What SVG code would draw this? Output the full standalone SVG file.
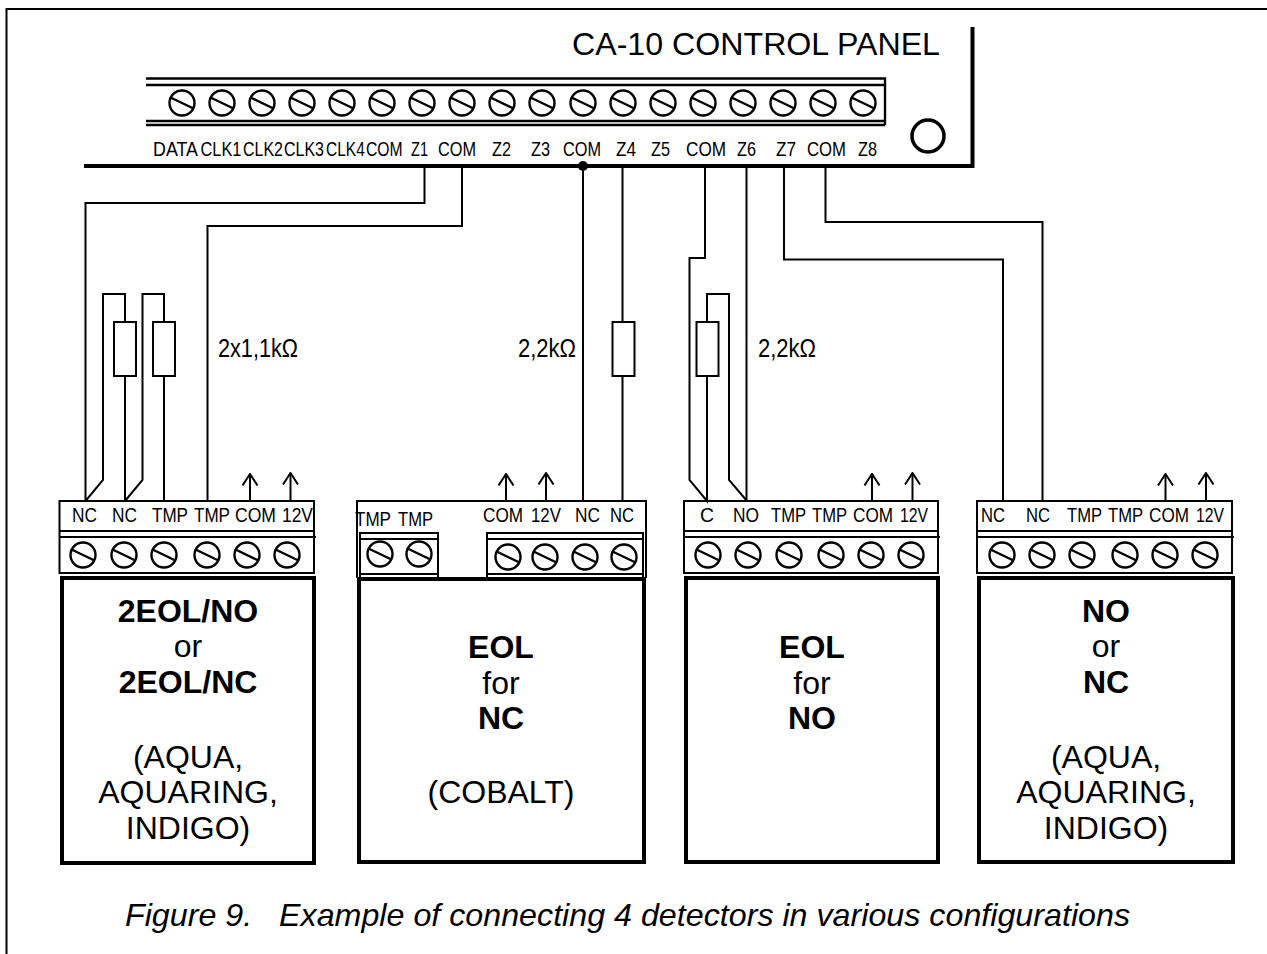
<svg xmlns="http://www.w3.org/2000/svg" width="1267" height="954" viewBox="0 0 1267 954">
<style>
text{font-family:"Liberation Sans",Arial,sans-serif;fill:#000}
.l{font-size:21px}
.r{font-size:26px}
.b{font-size:32px;text-anchor:middle}
.bb{font-size:32px;text-anchor:middle;font-weight:bold}
.w{fill:none;stroke:#000;stroke-width:2}
.t{fill:none;stroke:#000;stroke-width:2.400}
.k{fill:none;stroke:#000;stroke-width:4}
</style>
<defs>
<g id="s"><circle r="12.500" fill="#fff" stroke="#000" stroke-width="2.400"/><path d="M-11.500-5.500L11.500 5.500" stroke="#000" stroke-width="2.400"/></g>
<marker id="a" markerUnits="userSpaceOnUse" markerWidth="18" markerHeight="16" refX="9" refY="1.500" viewBox="0 0 18 16"><path d="M1.500 13L9 1.500L16.500 13" fill="none" stroke="#000" stroke-width="2"/></marker>
</defs>
<rect width="1267" height="954" fill="#fff"/>
<path d="M6.500 954V9H1267" class="w"/>
<g id="panel">
<path d="M84 166H972.500V27" class="k"/>
<path d="M146 78.500H885V125M146 85H885M146 121H885M146 125H885" class="t"/>
<circle cx="928" cy="136" r="16" fill="#fff" stroke="#000" stroke-width="3.500"/>
<use href="#s" x="182" y="103"/><use href="#s" x="222" y="103"/><use href="#s" x="262" y="103"/><use href="#s" x="302" y="103"/><use href="#s" x="342" y="103"/><use href="#s" x="382" y="103"/><use href="#s" x="422" y="103"/><use href="#s" x="462" y="103"/><use href="#s" x="502" y="103"/><use href="#s" x="542" y="103"/><use href="#s" x="583" y="103"/><use href="#s" x="623" y="103"/><use href="#s" x="663" y="103"/><use href="#s" x="703" y="103"/><use href="#s" x="743" y="103"/><use href="#s" x="783" y="103"/><use href="#s" x="823" y="103"/><use href="#s" x="863" y="103"/>
<text x="572" y="55" font-size="32" textLength="368" lengthAdjust="spacingAndGlyphs">CA-10 CONTROL PANEL</text>
<g class="l">
<text transform="translate(153 156) scale(.85 1)">DATA</text>
<text transform="translate(200.500 156) scale(.78 1)">CLK1</text>
<text transform="translate(243 156) scale(.76 1)">CLK2</text>
<text transform="translate(284 156) scale(.76 1)">CLK3</text>
<text transform="translate(326 156) scale(.74 1)">CLK4</text>
<text transform="translate(366 156) scale(.75 1)">COM</text>
<text x="411" y="156" textLength="17" lengthAdjust="spacingAndGlyphs">Z1</text>
<text x="438" y="156" textLength="38" lengthAdjust="spacingAndGlyphs">COM</text>
<text x="492" y="156" textLength="19" lengthAdjust="spacingAndGlyphs">Z2</text>
<text x="531" y="156" textLength="19" lengthAdjust="spacingAndGlyphs">Z3</text>
<text x="563" y="156" textLength="38" lengthAdjust="spacingAndGlyphs">COM</text>
<text x="616" y="156" textLength="20" lengthAdjust="spacingAndGlyphs">Z4</text>
<text x="651" y="156" textLength="19" lengthAdjust="spacingAndGlyphs">Z5</text>
<text x="686" y="156" textLength="40" lengthAdjust="spacingAndGlyphs">COM</text>
<text x="737" y="156" textLength="19" lengthAdjust="spacingAndGlyphs">Z6</text>
<text x="776" y="156" textLength="20" lengthAdjust="spacingAndGlyphs">Z7</text>
<text x="807" y="156" textLength="39" lengthAdjust="spacingAndGlyphs">COM</text>
<text x="858" y="156" textLength="19" lengthAdjust="spacingAndGlyphs">Z8</text>
</g>
</g>
<g id="connectors">
<path d="M424.500 166V203H85.500V501" class="w"/>
<path d="M462 166V226H207.500V501" class="w"/>
<path d="M85.500 501L103 480V294H125V322M125 376V501" class="w"/>
<path d="M125 501L142.500 480V294H164V322M164 376V501" class="w"/>
<path d="M583 166V501" class="w"/>
<circle cx="583" cy="166" r="5" fill="#000"/>
<path d="M622.500 166V322M622.500 376V501" class="w"/>
<path d="M705 166V258H689.500V480L707 501V376M707 322V294H729V480L747 501" class="w"/>
<path d="M746.500 166V501" class="w"/>
<path d="M784 166V259.500H1003V501" class="w"/>
<path d="M825.500 166V222H1042.500V501" class="w"/>
<path d="M250 501V474" class="w" marker-end="url(#a)"/>
<path d="M290.500 501V473" class="w" marker-end="url(#a)"/>
<path d="M506 501V474" class="w" marker-end="url(#a)"/>
<path d="M546 501V473" class="w" marker-end="url(#a)"/>
<path d="M872 501V474" class="w" marker-end="url(#a)"/>
<path d="M912.500 501V473" class="w" marker-end="url(#a)"/>
<path d="M1165.500 501V474" class="w" marker-end="url(#a)"/>
<path d="M1206 501V473" class="w" marker-end="url(#a)"/>
</g>
<g id="resistors">
<rect x="114" y="322" width="22" height="54" fill="#fff" stroke="#000" stroke-width="2"/>
<rect x="153" y="322" width="22" height="54" fill="#fff" stroke="#000" stroke-width="2"/>
<rect x="612.500" y="322" width="22" height="54" fill="#fff" stroke="#000" stroke-width="2"/>
<rect x="696.500" y="322" width="22" height="54" fill="#fff" stroke="#000" stroke-width="2"/>
<text class="r" x="218" y="357" textLength="80" lengthAdjust="spacingAndGlyphs">2x1,1kΩ</text>
<text class="r" x="518" y="357" textLength="58" lengthAdjust="spacingAndGlyphs">2,2kΩ</text>
<text class="r" x="758" y="357" textLength="58" lengthAdjust="spacingAndGlyphs">2,2kΩ</text>
</g>
<g id="det1">
<path d="M59.500 501H314V573H59.500ZM59.500 531H314M59.500 537H316" class="w"/>
<rect x="62" y="578" width="252" height="285" class="k"/>
<use href="#s" x="83" y="555"/><use href="#s" x="124" y="555"/><use href="#s" x="164" y="555"/><use href="#s" x="207" y="555"/><use href="#s" x="247" y="555"/><use href="#s" x="287" y="555"/>
<g class="l">
<text x="72" y="522" textLength="25" lengthAdjust="spacingAndGlyphs">NC</text>
<text x="112" y="522" textLength="25" lengthAdjust="spacingAndGlyphs">NC</text>
<text x="152" y="522" textLength="36" lengthAdjust="spacingAndGlyphs">TMP</text>
<text x="194" y="522" textLength="36" lengthAdjust="spacingAndGlyphs">TMP</text>
<text x="235" y="522" textLength="41" lengthAdjust="spacingAndGlyphs">COM</text>
<text x="282" y="522" textLength="31" lengthAdjust="spacingAndGlyphs">12V</text>
</g>
<text class="bb" x="188" y="622">2EOL/NO</text><text class="b" x="188" y="657">or</text><text class="bb" x="188" y="693">2EOL/NC</text>
<text class="b" x="188" y="768">(AQUA,</text><text class="b" x="188" y="803">AQUARING,</text><text class="b" x="188" y="839">INDIGO)</text>
</g>
<g id="det2">
<path d="M357 578V501H646V578" class="w"/>
<path d="M360 578V533H438V578M360 539H438M360 574H438" class="w"/>
<path d="M487 578V533H643V578M487 539H643M487 574H643" class="w"/>
<rect x="359" y="579" width="285" height="283" class="k"/>
<use href="#s" x="380" y="554"/><use href="#s" x="419" y="554"/><use href="#s" x="508" y="557"/><use href="#s" x="545" y="557"/><use href="#s" x="585" y="557"/><use href="#s" x="624" y="557"/>
<g class="l">
<text x="355" y="526" textLength="36" lengthAdjust="spacingAndGlyphs">TMP</text>
<text x="398" y="526" textLength="35" lengthAdjust="spacingAndGlyphs">TMP</text>
<text x="483" y="522" textLength="40" lengthAdjust="spacingAndGlyphs">COM</text>
<text x="531" y="522" textLength="30" lengthAdjust="spacingAndGlyphs">12V</text>
<text x="575" y="522" textLength="25" lengthAdjust="spacingAndGlyphs">NC</text>
<text x="610" y="522" textLength="24" lengthAdjust="spacingAndGlyphs">NC</text>
</g>
<text class="bb" x="501" y="658">EOL</text><text class="b" x="501" y="694">for</text><text class="bb" x="501" y="729">NC</text>
<text class="b" x="501" y="803">(COBALT)</text>
</g>
<g id="det3">
<path d="M684 501H938V573H684ZM684 531H938M684 537H940" class="w"/>
<rect x="686" y="578" width="252" height="284" class="k"/>
<use href="#s" x="708" y="555"/><use href="#s" x="748" y="555"/><use href="#s" x="789" y="555"/><use href="#s" x="831" y="555"/><use href="#s" x="871" y="555"/><use href="#s" x="911" y="555"/>
<g class="l">
<text x="700" y="522" textLength="14" lengthAdjust="spacingAndGlyphs">C</text>
<text x="733" y="522" textLength="26" lengthAdjust="spacingAndGlyphs">NO</text>
<text x="771" y="522" textLength="35" lengthAdjust="spacingAndGlyphs">TMP</text>
<text x="812" y="522" textLength="35" lengthAdjust="spacingAndGlyphs">TMP</text>
<text x="853" y="522" textLength="40" lengthAdjust="spacingAndGlyphs">COM</text>
<text x="900" y="522" textLength="28" lengthAdjust="spacingAndGlyphs">12V</text>
</g>
<text class="bb" x="812" y="658">EOL</text><text class="b" x="812" y="694">for</text><text class="bb" x="812" y="729">NO</text>
</g>
<g id="det4">
<path d="M977 501H1232V573H977ZM977 531H1232M977 537H1234" class="w"/>
<rect x="979" y="578" width="254" height="284" class="k"/>
<use href="#s" x="1002" y="555"/><use href="#s" x="1042" y="555"/><use href="#s" x="1082" y="555"/><use href="#s" x="1125" y="555"/><use href="#s" x="1165" y="555"/><use href="#s" x="1205" y="555"/>
<g class="l">
<text x="981" y="522" textLength="24" lengthAdjust="spacingAndGlyphs">NC</text>
<text x="1026" y="522" textLength="24" lengthAdjust="spacingAndGlyphs">NC</text>
<text x="1067" y="522" textLength="35" lengthAdjust="spacingAndGlyphs">TMP</text>
<text x="1108" y="522" textLength="35" lengthAdjust="spacingAndGlyphs">TMP</text>
<text x="1149" y="522" textLength="40" lengthAdjust="spacingAndGlyphs">COM</text>
<text x="1196" y="522" textLength="28" lengthAdjust="spacingAndGlyphs">12V</text>
</g>
<text class="bb" x="1106" y="622">NO</text><text class="b" x="1106" y="657">or</text><text class="bb" x="1106" y="693">NC</text>
<text class="b" x="1106" y="768">(AQUA,</text><text class="b" x="1106" y="803">AQUARING,</text><text class="b" x="1106" y="839">INDIGO)</text>
</g>
<text x="125" y="926" font-size="32" font-style="italic" xml:space="preserve" textLength="1005" lengthAdjust="spacingAndGlyphs">Figure 9.   Example of connecting 4 detectors in various configurations</text>
</svg>
